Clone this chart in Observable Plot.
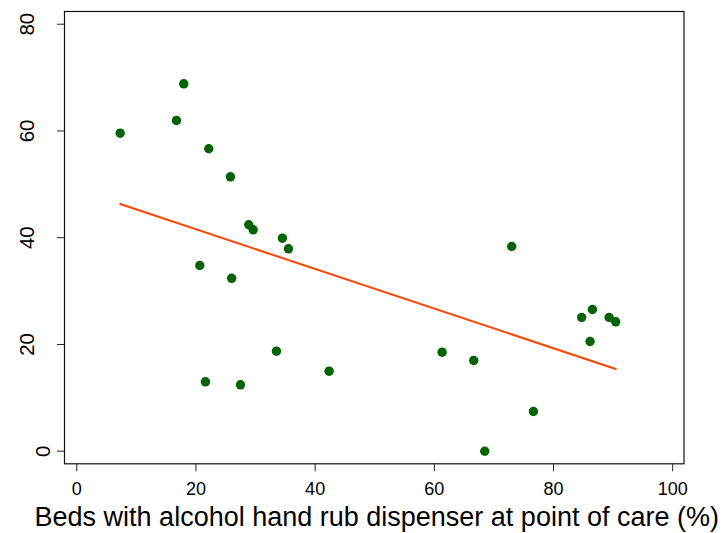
<!DOCTYPE html>
<html>
<head>
<meta charset="utf-8">
<script src="https://cdn.jsdelivr.net/npm/d3@7"></script>
<script src="https://cdn.jsdelivr.net/npm/@observablehq/plot@0.6"></script>
<style>
  html, body { margin: 0; padding: 0; background: #fff; }
</style>
</head>
<body>
<div id="chart"></div>
<script>
// Share of beds with an alcohol hand rub dispenser at the point of care (x)
// against the outcome measure on the vertical axis (y), one point per unit.
const bedsWithDispenser = [
  7.28, 16.73, 17.95, 22.15, 25.79, 28.86, 29.60, 34.51, 35.52, 20.64,
  25.99, 33.51, 21.59, 27.47, 42.35, 61.31, 66.61, 72.99, 68.46, 76.63,
  84.73, 86.53, 86.14, 89.33, 90.44
];
const outcome = [
  59.58, 61.96, 68.83, 56.66, 51.41, 42.42, 41.48, 39.91, 37.92, 34.79,
  32.39, 18.74, 13.00, 12.44, 14.99, 18.55, 16.99, 38.35, 0.00, 7.44,
  25.05, 26.55, 20.55, 25.05, 24.24
];
const xTicks = [0, 20, 40, 60, 80, 100];
const yTicks = [0, 20, 40, 60, 80];
const xTitle = "Beds with alcohol hand rub dispenser at point of care (%)";

const points = bedsWithDispenser.map((x, i) => ({x, y: outcome[i]}));
const yLabels = yTicks.map(v => ({v}));

const chart = Plot.plot({
  width: 723,
  height: 533,
  marginLeft: 64,
  marginRight: 39.5,
  marginTop: 11,
  marginBottom: 69.7,
  style: {
    fontFamily: "'Liberation Sans', Arial, Helvetica, sans-serif",
    background: "#fff",
    color: "#000"
  },
  x: {domain: [-2.06, 101.9]},
  y: {domain: [-2.36, 82.38]},
  marks: [
    Plot.frame({stroke: "#111", strokeWidth: 1.2}),
    Plot.axisX({
      ticks: xTicks,
      tickSize: 8,
      tickPadding: 10.5,
      fontSize: 18,
      label: null,
      stroke: "#222"
    }),
    Plot.axisY({
      ticks: yTicks,
      tickSize: 7,
      tickFormat: () => "",
      label: null,
      stroke: "#222"
    }),
    // rotated y tick labels (the zero label sits closer to the axis)
    Plot.text(yLabels.filter(d => d.v !== 0), {
      y: "v",
      text: d => String(d.v),
      frameAnchor: "left",
      dx: -31,
      rotate: -90,
      textAnchor: "middle",
      lineAnchor: "bottom",
      fontSize: 20.5,
      fill: "#000"
    }),
    Plot.text(yLabels.filter(d => d.v === 0), {
      y: "v",
      text: d => String(d.v),
      frameAnchor: "left",
      dx: -15,
      rotate: -90,
      textAnchor: "middle",
      lineAnchor: "bottom",
      fontSize: 20.5,
      fill: "#000"
    }),
    Plot.text([xTitle], {
      text: d => d,
      frameAnchor: "bottom",
      dx: 2.5,
      dy: 61.7,
      lineAnchor: "bottom",
      fontSize: 27,
      fill: "#000"
    }),
    Plot.dot(points, {x: "x", y: "y", r: 4.7, fill: "#006400", stroke: "none"}),
    Plot.linearRegressionY(points, {x: "x", y: "y", ci: 0, stroke: "#FF4500", strokeWidth: 2})
  ]
});

document.getElementById("chart").appendChild(chart);
</script>
</body>
</html>
